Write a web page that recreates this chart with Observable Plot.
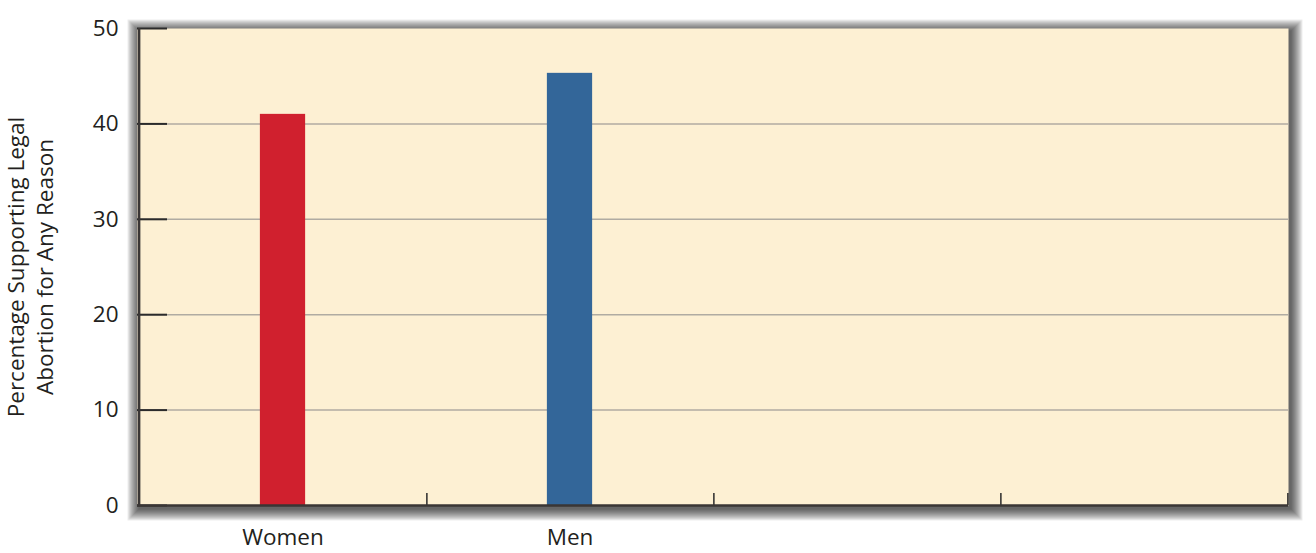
<!DOCTYPE html>
<html>
<head>
<meta charset="utf-8">
<script src="https://cdn.jsdelivr.net/npm/d3@7"></script>
<script src="https://cdn.jsdelivr.net/npm/@observablehq/plot@0.6"></script>
<style>
  html, body { margin: 0; padding: 0; background: #fff; }
  #chart svg { display: block; }
</style>
</head>
<body>
<div id="chart"></div>
<script>
const categories = ["Women", "Men", "Group 3", "Group 4"];
const labelled = ["Women", "Men"];
const values = [41, 45.3];
const barColors = ["#d0202e", "#336699"];
const yTicks = [0, 10, 20, 30, 40, 50];
const gridTicks = [10, 20, 30, 40];
const yLabel = "Percentage Supporting Legal\nAbortion for Any Reason";

const data = labelled.map((c, i) => ({category: c, value: values[i], color: barColors[i]}));

const W = 1316, H = 553;
const mL = 137, mR = 28, mT = 28, mB = 48;
const bw = (W - mL - mR) / categories.length;
const barW = 46;
const font = "'Open Sans', 'Noto Sans', sans-serif";
const fs = 22.5;
const bg = "#fdf0d3";

// soft shadow built from stacked translucent frames
const shadowLayers = d3.range(1, 13).map(k =>
  Plot.frame({fill: "#000", fillOpacity: 0.07, stroke: "none", inset: -k, dx: 2, dy: 3}));

const chart = Plot.plot({
  width: W,
  height: H,
  marginLeft: mL,
  marginRight: mR,
  marginTop: mT,
  marginBottom: mB,
  style: {fontFamily: font, fontSize: fs + "px", color: "#231f20", background: "#fff"},
  x: {domain: categories, padding: 0, label: null},
  y: {domain: [0, 50], label: null},
  marks: [
    ...shadowLayers,
    Plot.frame({fill: bg, stroke: "none"}),
    Plot.ruleY(gridTicks, {stroke: "#b0aba2", strokeWidth: 1.5}),
    Plot.barY(data, {x: "category", y: "value", fill: "color",
      insetLeft: (bw - barW) / 2, insetRight: (bw - barW) / 2}),
    Plot.axisY(yTicks, {tickSize: 0, tickPadding: 19, fontSize: fs, fill: "#231f20"}),
    Plot.axisY(yTicks, {tickSize: -30, text: null, stroke: "#2b2b2b", strokeWidth: 2}),
    Plot.axisX(labelled, {tickSize: 0, tickPadding: 24, fontSize: fs, fill: "#231f20"}),
    Plot.axisX(categories, {tickSize: -12, text: null, dx: bw / 2, stroke: "#2b2b2b", strokeWidth: 1.5}),
    Plot.ruleY([0], {stroke: "#3a3635", strokeWidth: 2.5}),
    Plot.ruleX([categories[0]], {dx: -bw / 2, stroke: "#3a3635", strokeWidth: 2.5}),
    Plot.text([yLabel], {frameAnchor: "left", dx: -108, rotate: -90, textAnchor: "middle",
      lineAnchor: "middle", lineHeight: 1.25, fontSize: fs, fill: "#231f20"})
  ]
});

document.getElementById("chart").appendChild(chart);
</script>
</body>
</html>
